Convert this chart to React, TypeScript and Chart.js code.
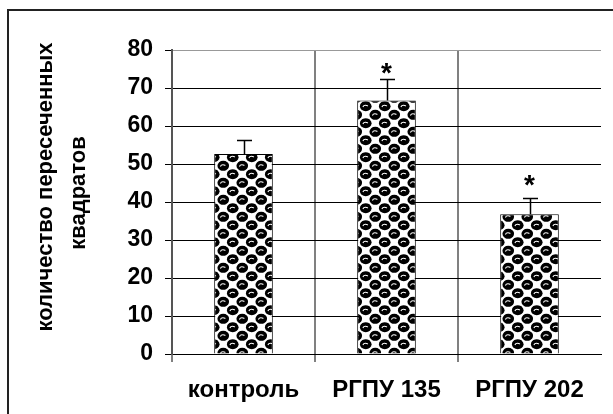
import React, { useEffect, useRef } from 'react';
import { Chart, registerables } from 'chart.js';
Chart.register(...registerables);

const categories = ['контроль', 'РГПУ 135', 'РГПУ 202'];
const meanValues = [52.6, 66.7, 36.8];
const errorValues = [3.7, 5.7, 4.3];
const significanceMarks = ['', '*', '*'];
const markLevels = [0, 75.7, 46.3];
const yMin = 0;
const yMax = 80;
const yStep = 10;
const yTitleLines = ['количество пересеченных', 'квадратов'];

const FONT = "'Liberation Sans', Arial, sans-serif";

function makePattern(): CanvasPattern | string {
  const W = 19;
  const H = 17;
  const c = document.createElement('canvas');
  c.width = W;
  c.height = H;
  const g = c.getContext('2d');
  if (!g) return '#000';
  g.fillStyle = '#fff';
  g.fillRect(0, 0, W, H);
  const centers: number[][] = [];
  for (const [cx, cy] of [[W / 4, H / 4], [(3 * W) / 4, (3 * H) / 4]]) {
    for (let dx = -1; dx <= 1; dx++) for (let dy = -1; dy <= 1; dy++) centers.push([cx + dx * W, cy + dy * H]);
  }
  g.fillStyle = '#000';
  for (const [cx, cy] of centers) {
    g.beginPath();
    g.ellipse(cx, cy, 5.8, 5.1, 0, 0, Math.PI * 2);
    g.fill();
  }
  g.strokeStyle = '#fff';
  g.lineWidth = 1.1;
  for (const [cx, cy] of centers) {
    g.beginPath();
    g.ellipse(cx, cy + 1.5, 3.0, 2.4, 0, Math.PI * 1.1, Math.PI * 1.75);
    g.stroke();
  }
  const p = g.createPattern(c, 'repeat');
  return p || '#000';
}

const decorPlugin = {
  id: 'decor',
  beforeDraw(chart: any) {
    const ctx = chart.ctx;
    ctx.save();
    ctx.fillStyle = '#fff';
    ctx.fillRect(0, 0, chart.width, chart.height);
    ctx.restore();
  },
  afterDatasetsDraw(chart: any) {
    const ctx = chart.ctx;
    const ys = chart.scales.y;
    const meta = chart.getDatasetMeta(0);
    ctx.save();
    ctx.strokeStyle = '#000';
    ctx.lineWidth = 1.5;
    meta.data.forEach((el: any, i: number) => {
      const x = Math.round(el.x) + 0.5;
      const top = ys.getPixelForValue(meanValues[i]);
      const et = Math.round(ys.getPixelForValue(meanValues[i] + errorValues[i])) + 0.5;
      ctx.beginPath();
      ctx.moveTo(x, top);
      ctx.lineTo(x, et);
      ctx.moveTo(x - 7.5, et);
      ctx.lineTo(x + 7.5, et);
      ctx.stroke();
      if (significanceMarks[i]) {
        const fs = 28;
        ctx.font = `bold ${fs}px ${FONT}`;
        ctx.fillStyle = '#000';
        ctx.textAlign = 'center';
        ctx.textBaseline = 'alphabetic';
        const py = ys.getPixelForValue(markLevels[i]);
        ctx.fillText(significanceMarks[i], el.x, py + 0.575 * fs);
      }
    });
    ctx.restore();
  },
  afterDraw(chart: any) {
    const ctx = chart.ctx;
    ctx.save();
    ctx.fillStyle = '#222';
    ctx.fillRect(7, 9, chart.width - 7, 2);
    ctx.fillRect(7, 9, 2, chart.height - 9);
    ctx.fillStyle = '#000';
    ctx.font = `bold 22px ${FONT}`;
    ctx.textAlign = 'center';
    ctx.textBaseline = 'alphabetic';
    const baseX = [52, 85];
    const centerY = [187, 193];
    yTitleLines.forEach((line, i) => {
      ctx.save();
      ctx.translate(baseX[i], centerY[i]);
      ctx.rotate(-Math.PI / 2);
      ctx.fillText(line, 0, 0);
      ctx.restore();
    });
    ctx.restore();
  },
};

export default function App() {
  const ref = useRef<HTMLCanvasElement | null>(null);
  useEffect(() => {
    if (!ref.current) return;
    const pattern = makePattern();
    const chart = new Chart(ref.current, {
      type: 'bar',
      data: {
        labels: categories,
        datasets: [
          {
            data: meanValues,
            backgroundColor: pattern as any,
            borderColor: '#000',
            borderWidth: 1,
            barPercentage: 0.41,
            categoryPercentage: 1,
          },
        ],
      },
      options: {
        responsive: false,
        animation: false,
        devicePixelRatio: 1,
        layout: { padding: { top: 50, right: 12, left: 0, bottom: 0 } },
        plugins: { legend: { display: false }, tooltip: { enabled: false }, title: { display: false } },
        scales: {
          x: {
            offset: true,
            grid: {
              offset: true,
              color: (c: any) => (c.type === 'tick' ? '#808080' : 'rgba(0,0,0,0)'),
              lineWidth: 2,
              tickLength: 8,
            },
            border: { color: '#000', width: 1 },
            ticks: {
              color: '#000',
              font: { family: FONT, size: 24, weight: 'bold' },
              padding: 14,
              maxRotation: 0,
              autoSkip: false,
            },
            afterFit: (s: any) => {
              s.height = 60;
            },
          },
          y: {
            min: yMin,
            max: yMax,
            ticks: {
              stepSize: yStep,
              color: '#000',
              font: { family: FONT, size: 23, weight: 'bold' },
              padding: 12,
            },
            grid: {
              color: (c: any) => (c.tick && c.tick.value === yMax ? '#999' : '#000'),
              tickColor: '#000',
              lineWidth: 1,
              tickLength: 7,
            },
            border: { color: '#555', width: 2 },
            afterFit: (s: any) => {
              s.width = 172;
            },
          },
        },
      } as any,
      plugins: [decorPlugin],
    });
    return () => chart.destroy();
  }, []);
  return (
    <div style={{ position: 'fixed', left: 0, top: 0, width: 613, height: 414 }}>
      <canvas ref={ref} width={613} height={414} style={{ display: 'block' }} />
    </div>
  );
}
